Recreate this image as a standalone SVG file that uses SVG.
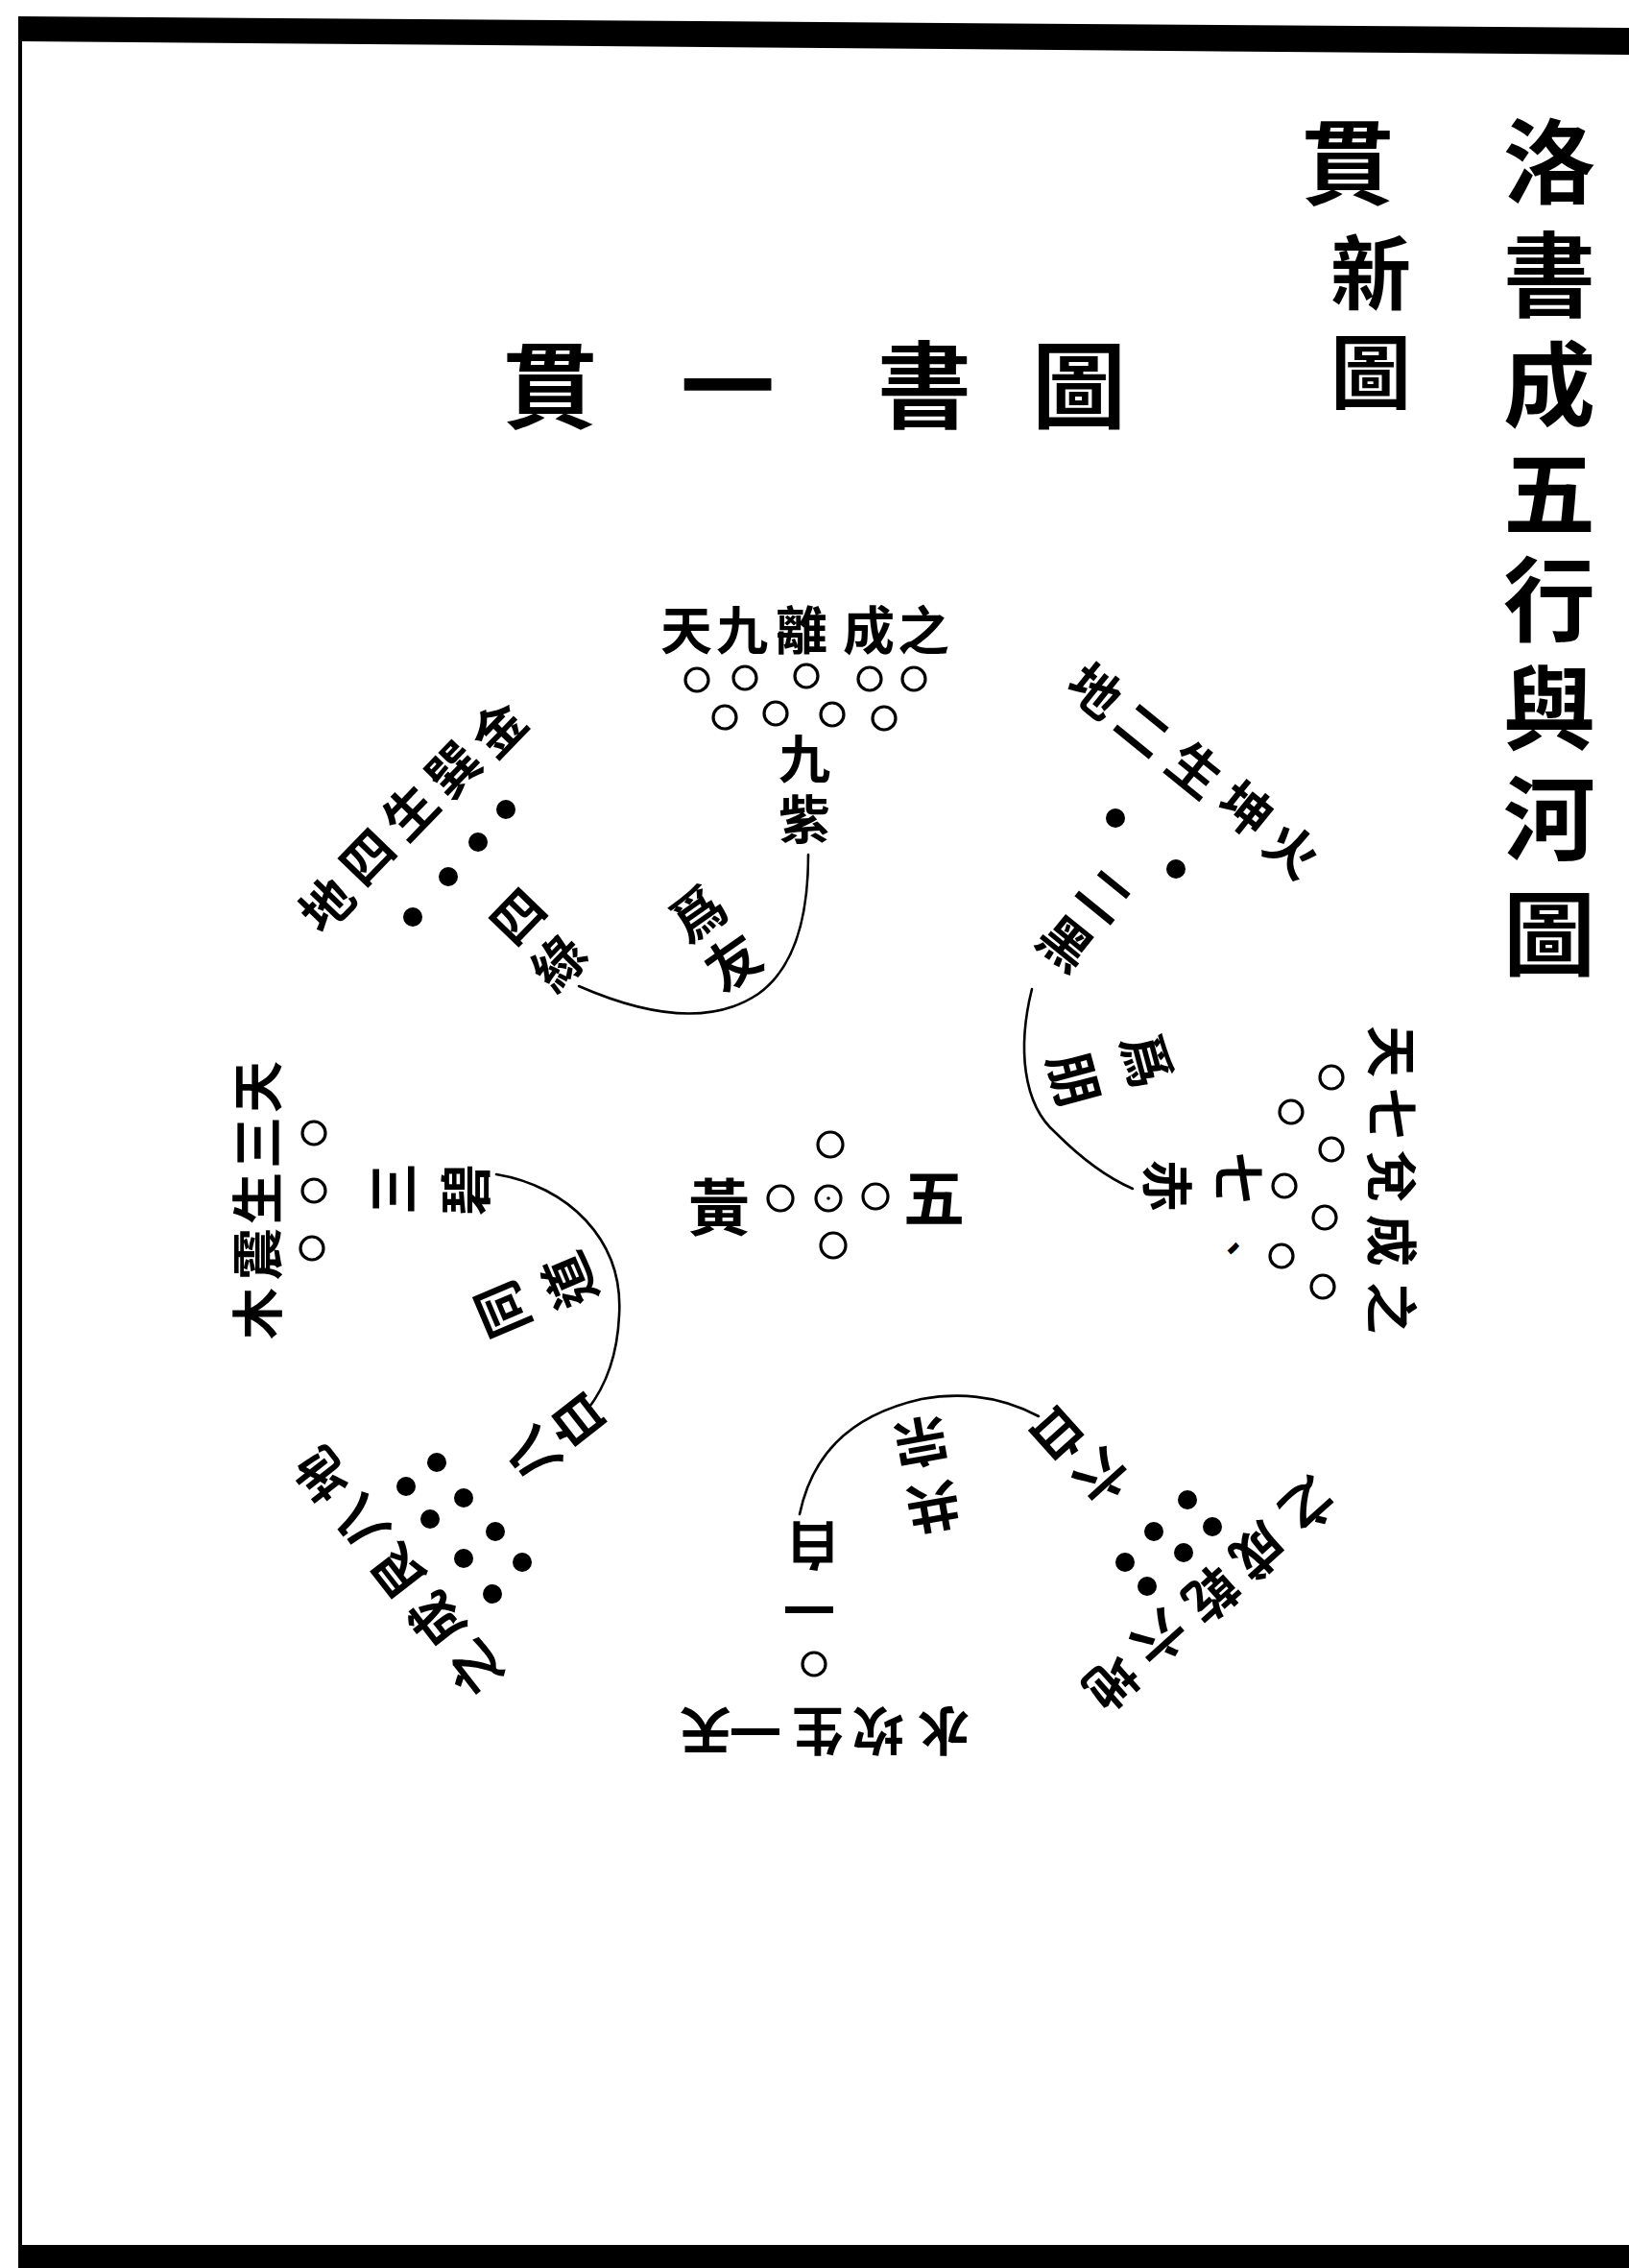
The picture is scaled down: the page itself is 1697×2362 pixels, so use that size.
<svg xmlns="http://www.w3.org/2000/svg" width="1697" height="2362" viewBox="0 0 1697 2362">
<style>
.c{font-family:"Noto Sans CJK TC","Noto Sans CJK SC",sans-serif;text-anchor:middle;dominant-baseline:central;font-weight:700;fill:#000}
.t1{font-size:96px}
.t2{font-size:84px}
.hd{font-size:98px}
.lab{font-size:54px}
.num{font-size:54px}
.pr{font-size:56px}
.ctr{font-size:64px}
.w{fill:#fff;stroke:#000;stroke-width:3.2}
.b{fill:#000}
.arc{fill:none;stroke:#000;stroke-width:2.6;stroke-linecap:round}
</style>
<rect width="1697" height="2362" fill="#fff"/>
<g id="frame">
<polygon points="19,17 1697,29 1697,57 19,43" fill="#000"/>
<rect x="19" y="40" width="4" height="2305" fill="#000"/>
<rect x="19" y="2338" width="1678" height="24" fill="#000"/>
</g>
<g id="title">
<text class="c t1" x="1614" y="162">洛</text>
<text class="c t1" x="1614" y="280">書</text>
<text class="c t1" x="1614" y="394">成</text>
<text class="c t1" x="1614" y="507">五</text>
<text class="c t1" x="1614" y="618">行</text>
<text class="c t1" x="1614" y="731">與</text>
<text class="c t1" x="1614" y="846">河</text>
<text class="c t1" x="1614" y="966">圖</text>
</g>
<g id="subtitle">
<text class="c t1" x="1404" y="163">貫</text>
<text class="c t2" x="1428" y="279">新</text>
<text class="c t2" x="1428" y="382">圖</text>
</g>
<g id="heading">
<text class="c hd" x="573" y="395">貫</text>
<text class="c hd" x="758" y="395">一</text>
<text class="c hd" x="963" y="395">書</text>
<text class="c hd" x="1124" y="395">圖</text>
</g>
<g id="connectors">
<path class="arc" d="M842 890 C842 960 825 1010 790 1035 C750 1062 690 1065 603 1027"/>
<path class="arc" d="M1075 1030 C1060 1090 1065 1150 1100 1180 C1125 1205 1150 1225 1180 1238"/>
<path class="arc" d="M517 1223 C590 1235 650 1290 645 1370 C643 1415 630 1445 612 1468"/>
<path class="arc" d="M833 1577 C845 1520 880 1475 960 1457 C1010 1448 1050 1458 1082 1475"/>
</g>
<g id="node-5">
<circle class="w" cx="865" cy="1192" r="13"/>
<circle class="w" cx="813" cy="1248" r="13"/>
<circle class="w" cx="863" cy="1248" r="13"/>
<circle class="b" cx="863" cy="1248" r="1.8"/>
<circle class="w" cx="912" cy="1246" r="13"/>
<circle class="w" cx="868" cy="1297" r="13"/>
<text class="c ctr" x="749" y="1253">黃</text>
<text class="c ctr" x="973" y="1243">五</text>
</g>
<g id="node-9">
<text class="c lab" x="715" y="653">天</text>
<text class="c lab" x="773" y="653">九</text>
<text class="c lab" x="835" y="653">離</text>
<text class="c lab" x="905" y="653">成</text>
<text class="c lab" x="962" y="653">之</text>
<circle class="w" cx="726" cy="708" r="12"/>
<circle class="w" cx="776" cy="706" r="12"/>
<circle class="w" cx="840" cy="704" r="12"/>
<circle class="w" cx="906" cy="707" r="12"/>
<circle class="w" cx="952" cy="707" r="12"/>
<circle class="w" cx="755" cy="747" r="12"/>
<circle class="w" cx="808" cy="743" r="12"/>
<circle class="w" cx="867" cy="744" r="12"/>
<circle class="w" cx="921" cy="748" r="12"/>
<text class="c num" x="838" y="787">九</text>
<text class="c num" x="838" y="850">紫</text>
</g>
<g id="pair-4-9">
<text class="c pr" x="725" y="948" transform="rotate(-35 725 948)">爲</text>
<text class="c pr" x="762" y="999" transform="rotate(-35 762 999)">友</text>
</g>
<g id="node-4">
<text class="c lab" x="338" y="940" transform="rotate(-46 338 940)">地</text>
<text class="c lab" x="380" y="890" transform="rotate(-46 380 890)">四</text>
<text class="c lab" x="425" y="843" transform="rotate(-46 425 843)">生</text>
<text class="c lab" x="470" y="799" transform="rotate(-46 470 799)">巽</text>
<text class="c lab" x="517" y="757" transform="rotate(-46 517 757)">金</text>
<circle class="b" cx="527" cy="843" r="10"/>
<circle class="b" cx="498" cy="877" r="10"/>
<circle class="b" cx="467" cy="913" r="10"/>
<circle class="b" cx="430" cy="955" r="10"/>
<text class="c num" x="537" y="952" transform="rotate(-46 537 952)">四</text>
<text class="c num" x="580" y="1000" transform="rotate(-46 580 1000)">綠</text>
</g>
<g id="node-2">
<text class="c lab" x="1143" y="717" transform="rotate(39 1143 717)">地</text>
<text class="c lab" x="1193" y="757" transform="rotate(39 1193 757)">二</text>
<text class="c lab" x="1247" y="799" transform="rotate(39 1247 799)">生</text>
<text class="c lab" x="1300" y="840" transform="rotate(39 1300 840)">坤</text>
<text class="c lab" x="1348" y="883" transform="rotate(39 1348 883)">火</text>
<circle class="b" cx="1162" cy="852" r="10"/>
<circle class="b" cx="1225" cy="905" r="10"/>
<text class="c num" x="1153" y="930" transform="rotate(39 1153 930)">二</text>
<text class="c num" x="1112" y="980" transform="rotate(39 1112 980)">黑</text>
</g>
<g id="pair-2-7">
<text class="c pr" x="1198" y="1103" transform="rotate(75 1198 1103)">爲</text>
<text class="c pr" x="1122" y="1123" transform="rotate(75 1122 1123)">朋</text>
</g>
<g id="node-7">
<text class="c lab" x="1452" y="1095" transform="rotate(90 1452 1095)">天</text>
<text class="c lab" x="1452" y="1160" transform="rotate(90 1452 1160)">七</text>
<text class="c lab" x="1452" y="1225" transform="rotate(90 1452 1225)">兌</text>
<text class="c lab" x="1452" y="1292" transform="rotate(90 1452 1292)">成</text>
<text class="c lab" x="1452" y="1362" transform="rotate(90 1452 1362)">之</text>
<circle class="w" cx="1387" cy="1122" r="12"/>
<circle class="w" cx="1345" cy="1158" r="12"/>
<circle class="w" cx="1387" cy="1197" r="12"/>
<circle class="w" cx="1338" cy="1235" r="12"/>
<circle class="w" cx="1380" cy="1268" r="12"/>
<circle class="w" cx="1335" cy="1308" r="12"/>
<circle class="w" cx="1378" cy="1340" r="12"/>
<text class="c num" x="1292" y="1227" transform="rotate(90 1292 1227)">七</text>
<text class="c" style="font-size:40px" x="1287" y="1300" transform="rotate(90 1287 1300)">、</text>
<text class="c num" x="1218" y="1235" transform="rotate(90 1218 1235)">赤</text>
</g>
<g id="node-3">
<text class="c lab" x="265" y="1132" transform="rotate(-90 265 1132)">天</text>
<text class="c lab" x="265" y="1190" transform="rotate(-90 265 1190)">三</text>
<text class="c lab" x="265" y="1248" transform="rotate(-90 265 1248)">生</text>
<text class="c lab" x="265" y="1306" transform="rotate(-90 265 1306)">震</text>
<text class="c lab" x="265" y="1368" transform="rotate(-90 265 1368)">木</text>
<circle class="w" cx="327" cy="1180" r="12"/>
<circle class="w" cx="327" cy="1240" r="12"/>
<circle class="w" cx="325" cy="1300" r="12"/>
<text class="c num" x="406" y="1238" transform="rotate(-90 406 1238)">三</text>
<text class="c num" x="482" y="1239" transform="rotate(-90 482 1239)">碧</text>
</g>
<g id="pair-3-8">
<text class="c pr" x="520" y="1365" transform="rotate(-113 520 1365)">同</text>
<text class="c pr" x="590" y="1335" transform="rotate(-113 590 1335)">道</text>
</g>
<g id="node-8">
<text class="c lab" x="333" y="1538" transform="rotate(-128 333 1538)">地</text>
<text class="c lab" x="373" y="1588" transform="rotate(-128 373 1588)">八</text>
<text class="c lab" x="412" y="1639" transform="rotate(-128 412 1639)">艮</text>
<text class="c lab" x="452" y="1689" transform="rotate(-128 452 1689)">成</text>
<text class="c lab" x="492" y="1740" transform="rotate(-128 492 1740)">之</text>
<circle class="b" cx="455" cy="1523" r="10"/>
<circle class="b" cx="423" cy="1548" r="10"/>
<circle class="b" cx="483" cy="1560" r="10"/>
<circle class="b" cx="448" cy="1582" r="10"/>
<circle class="b" cx="516" cy="1595" r="10"/>
<circle class="b" cx="483" cy="1623" r="10"/>
<circle class="b" cx="544" cy="1627" r="10"/>
<circle class="b" cx="513" cy="1660" r="10"/>
<text class="c num" x="552" y="1517" transform="rotate(-128 552 1517)">八</text>
<text class="c num" x="598" y="1482" transform="rotate(-128 598 1482)">白</text>
</g>
<g id="node-1">
<text class="c lab" x="735" y="1805" transform="rotate(180 735 1805)">天</text>
<text class="c lab" x="787" y="1805" transform="rotate(180 787 1805)">一</text>
<text class="c lab" x="852" y="1805" transform="rotate(180 852 1805)">生</text>
<text class="c lab" x="915" y="1805" transform="rotate(180 915 1805)">坎</text>
<text class="c lab" x="983" y="1805" transform="rotate(180 983 1805)">水</text>
<circle class="w" cx="848" cy="1733" r="12"/>
<text class="c num" x="843" y="1678" transform="rotate(180 843 1678)">一</text>
<text class="c num" x="847" y="1612" transform="rotate(180 847 1612)">白</text>
</g>
<g id="pair-1-6">
<text class="c pr" x="973" y="1573" transform="rotate(170 973 1573)">共</text>
<text class="c pr" x="960" y="1505" transform="rotate(170 960 1505)">宗</text>
</g>
<g id="node-6">
<text class="c lab" x="1160" y="1755" transform="rotate(138 1160 1755)">地</text>
<text class="c lab" x="1210" y="1708" transform="rotate(138 1210 1708)">六</text>
<text class="c lab" x="1264" y="1663" transform="rotate(138 1264 1663)">乾</text>
<text class="c lab" x="1313" y="1618" transform="rotate(138 1313 1618)">成</text>
<text class="c lab" x="1365" y="1570" transform="rotate(138 1365 1570)">之</text>
<circle class="b" cx="1237" cy="1562" r="10"/>
<circle class="b" cx="1202" cy="1595" r="10"/>
<circle class="b" cx="1263" cy="1590" r="10"/>
<circle class="b" cx="1233" cy="1617" r="10"/>
<circle class="b" cx="1172" cy="1627" r="10"/>
<circle class="b" cx="1195" cy="1652" r="10"/>
<text class="c num" x="1150" y="1540" transform="rotate(138 1150 1540)">六</text>
<text class="c num" x="1105" y="1497" transform="rotate(138 1105 1497)">白</text>
</g>
</svg>
